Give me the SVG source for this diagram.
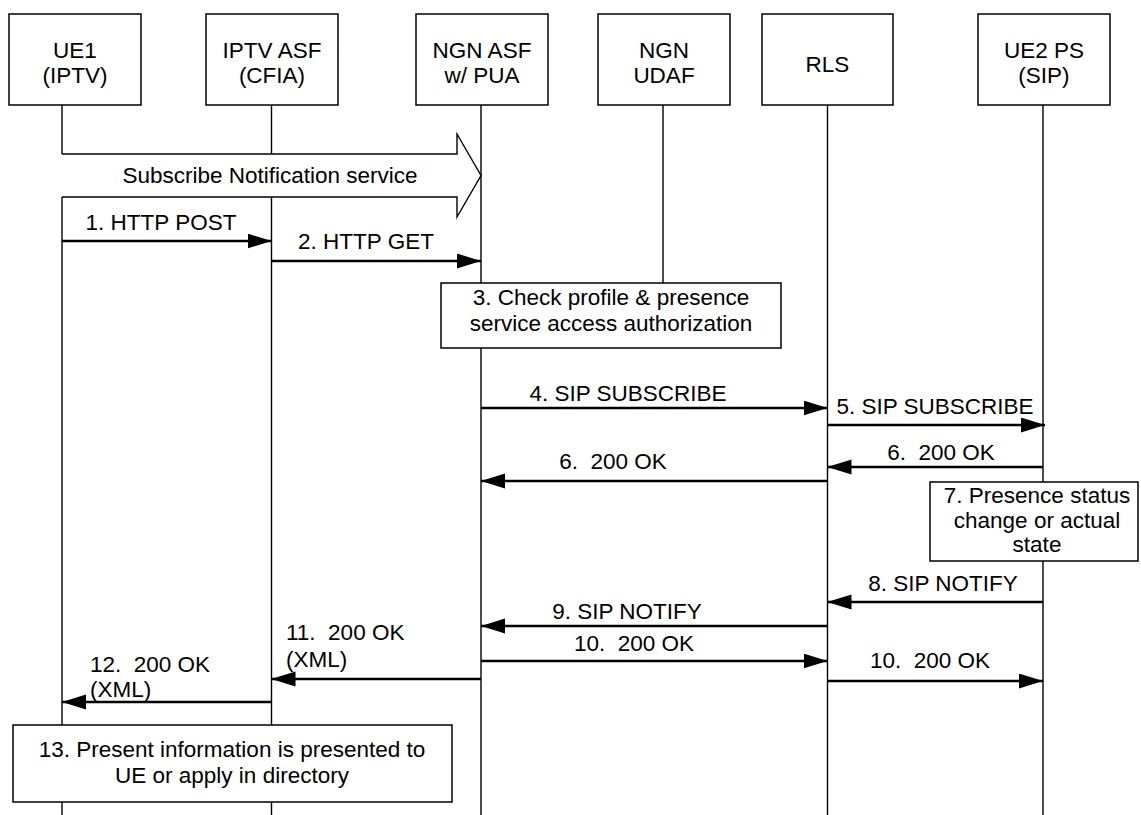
<svg xmlns="http://www.w3.org/2000/svg" width="1141" height="815" viewBox="0 0 1141 815">
  <style>
    .box { fill: #fff; stroke: #000; stroke-width: 1.5; }
    .life { stroke: #000; stroke-width: 1.4; fill: none; }
    .msg { stroke: #000; stroke-width: 2.3; fill: none; marker-end: url(#head); }
    text { font-family: "Liberation Sans", Arial, sans-serif; font-size: 22.5px; fill: #000; white-space: pre; }
    .c { text-anchor: middle; }
  </style>
  <defs>
    <marker id="head" markerUnits="userSpaceOnUse" markerWidth="24" markerHeight="16" refX="24" refY="7.5" orient="auto">
      <path d="M0,0 L24,7.5 L0,15 z" fill="#000"/>
    </marker>
  </defs>

  <!-- lifelines -->
  <g id="lifelines">
    <line class="life" x1="62" y1="105" x2="62" y2="815"/>
    <line class="life" x1="271.5" y1="105" x2="271.5" y2="815"/>
    <line class="life" x1="481" y1="105" x2="481" y2="815"/>
    <line class="life" x1="663" y1="105" x2="663" y2="283"/>
    <line class="life" x1="827.5" y1="105" x2="827.5" y2="815"/>
    <line class="life" x1="1043" y1="105" x2="1043" y2="815"/>
  </g>

  <!-- participant boxes -->
  <g id="ue1">
    <rect class="box" x="9" y="14" width="132" height="91"/>
    <text class="c" x="75" y="58">UE1</text>
    <text class="c" x="75" y="83">(IPTV)</text>
  </g>
  <g id="iptv-asf">
    <rect class="box" x="206" y="14" width="132" height="91"/>
    <text class="c" x="272" y="58">IPTV ASF</text>
    <text class="c" x="272" y="83">(CFIA)</text>
  </g>
  <g id="ngn-asf">
    <rect class="box" x="416" y="14" width="132" height="91"/>
    <text class="c" x="482" y="58">NGN ASF</text>
    <text class="c" x="482" y="83">w/ PUA</text>
  </g>
  <g id="ngn-udaf">
    <rect class="box" x="598" y="14" width="132" height="91"/>
    <text class="c" x="664" y="58">NGN</text>
    <text class="c" x="664" y="83">UDAF</text>
  </g>
  <g id="rls">
    <rect class="box" x="762" y="14" width="131" height="91"/>
    <text class="c" x="827.5" y="72">RLS</text>
  </g>
  <g id="ue2-ps">
    <rect class="box" x="978" y="14" width="132" height="91"/>
    <text class="c" x="1044" y="58">UE2 PS</text>
    <text class="c" x="1044" y="83">(SIP)</text>
  </g>

  <!-- service-level open arrow -->
  <g id="subscribe-notification">
    <path d="M61,154 L457,154 L457,134 L481,175.5 L457,217 L457,197 L61,197 z" fill="#fff" stroke="none"/>
    <path d="M62,154 L457,154 L457,134 L481,175.5 L457,217 L457,197 L62,197" fill="none" stroke="#000" stroke-width="1.4"/>
    <text class="c" x="270" y="183">Subscribe Notification service</text>
  </g>

  <!-- processing boxes -->
  <g id="step3">
    <rect class="box" x="441" y="283" width="340" height="65"/>
    <text class="c" x="611" y="305">3. Check profile &amp; presence</text>
    <text class="c" x="611" y="331">service access authorization</text>
  </g>
  <g id="step7">
    <rect class="box" x="930" y="482" width="208" height="79"/>
    <text class="c" x="1037" y="503">7. Presence status</text>
    <text class="c" x="1037" y="528">change or actual</text>
    <text class="c" x="1037" y="552">state</text>
  </g>
  <g id="step13">
    <rect class="box" x="13" y="725" width="439" height="77"/>
    <text class="c" x="232" y="757">13. Present information is presented to</text>
    <text class="c" x="232" y="783">UE or apply in directory</text>
  </g>

  <!-- messages -->
  <g id="connectors">
    <line class="msg" x1="62" y1="241" x2="271.5" y2="241"/>
    <line class="msg" x1="271.5" y1="261" x2="481" y2="261"/>
    <line class="msg" x1="481" y1="408" x2="827.5" y2="408"/>
    <line class="msg" x1="827.5" y1="425" x2="1045" y2="425"/>
    <line class="msg" x1="1043" y1="467" x2="827.5" y2="467"/>
    <line class="msg" x1="827.5" y1="481" x2="481" y2="481"/>
    <line class="msg" x1="1043" y1="602" x2="827.5" y2="602"/>
    <line class="msg" x1="827.5" y1="626" x2="481" y2="626"/>
    <line class="msg" x1="481" y1="661" x2="827.5" y2="661"/>
    <line class="msg" x1="827.5" y1="681" x2="1043" y2="681"/>
    <line class="msg" x1="481" y1="679" x2="271.5" y2="679"/>
    <line class="msg" x1="271.5" y1="702" x2="62" y2="702"/>
  </g>

  <!-- message labels -->
  <g id="labels">
    <text class="c" x="161" y="230">1. HTTP POST</text>
    <text class="c" x="366" y="249">2. HTTP GET</text>
    <text class="c" x="628" y="401">4. SIP SUBSCRIBE</text>
    <text class="c" x="935" y="414">5. SIP SUBSCRIBE</text>
    <text class="c" x="941" y="460">6.  200 OK</text>
    <text class="c" x="613" y="469">6.  200 OK</text>
    <text class="c" x="943" y="591">8. SIP NOTIFY</text>
    <text class="c" x="627" y="619">9. SIP NOTIFY</text>
    <text class="c" x="634" y="651">10.  200 OK</text>
    <text class="c" x="930" y="668">10.  200 OK</text>
    <text x="286" y="640">11.  200 OK</text>
    <text x="286" y="667">(XML)</text>
    <text x="90" y="672">12.  200 OK</text>
    <text x="90" y="697">(XML)</text>
  </g>
</svg>
